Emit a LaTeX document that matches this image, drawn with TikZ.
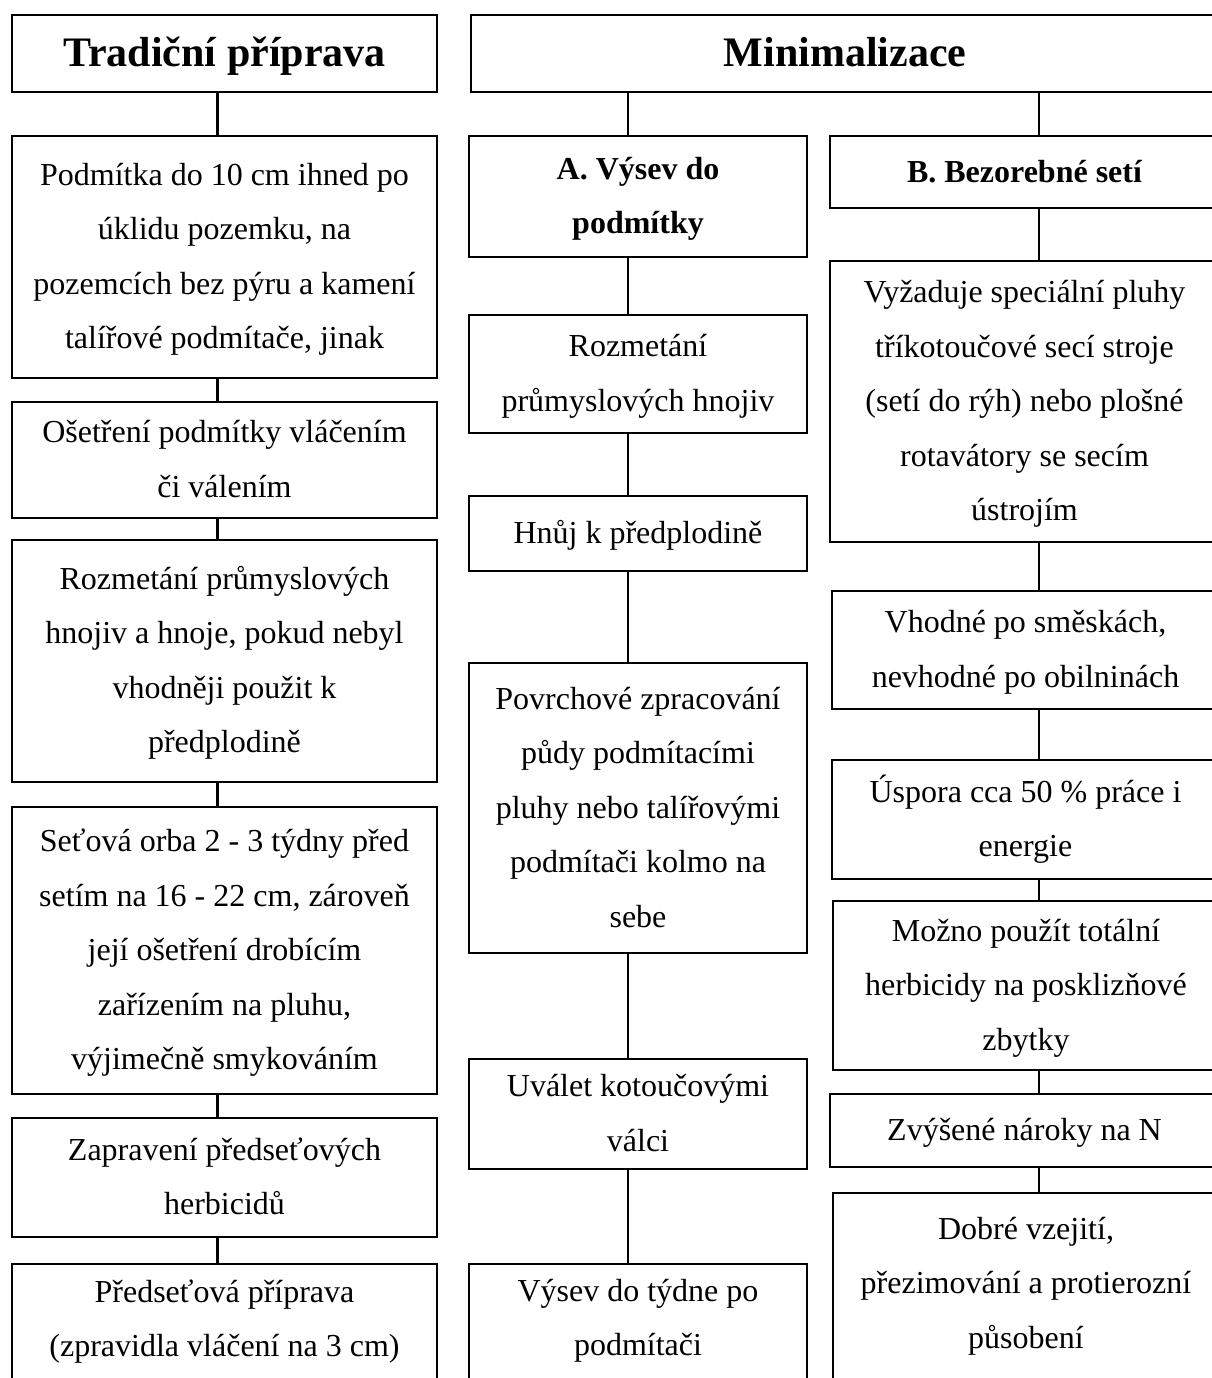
\documentclass[tikz,border=0pt]{standalone}
\usepackage{fontspec}
\setmainfont{Liberation Serif}
\newcommand{\ws}{\rule[-17pt]{0pt}{54pt}}
\newcommand{\wt}{\rule[-15pt]{0pt}{57pt}}
\tikzset{
  boxst/.style={draw, line width=2.5pt, align=center, inner sep=0pt,
    font={\fontsize{32}{54.5}\selectfont\lineskiplimit=-100pt}},
  boldst/.style={boxst, font={\fontsize{32}{54.5}\selectfont\bfseries\lineskiplimit=-100pt}},
  titlest/.style={boxst, font={\fontsize{42}{50}\selectfont\bfseries\lineskiplimit=-100pt}},
  emptyst/.style={draw, line width=2.5pt, inner sep=0pt},
  txtst/.style={align=center, inner sep=0pt, anchor=north,
    font={\fontsize{32}{54.5}\selectfont\lineskiplimit=-100pt}},
  conn/.style={line width=2.5pt}
}
\newcommand{\mybox}[7][boxst]{\node[#1, minimum width={#5-#3}, minimum height={#6-#4}] (#2) at ({(#3+#5)/2},{(#4+#6)/2}) {#7};}
\begin{document}
\begin{tikzpicture}[x=1pt,y=-1pt]
\useasboundingbox (0,0) rectangle (1211,1378);
\coordinate (cL) at (217.5,0);
\coordinate (cM) at (628,0);
\coordinate (cR) at (1039,0);
% Left column
\mybox[titlest]{tL}{12}{15}{437}{92}{\wt Tradiční příprava}
\mybox{L1}{12}{136}{437}{378}{\ws Podmítka do 10 cm ihned po\\\ws úklidu pozemku, na\\\ws pozemcích bez pýru a kamení\\\ws talířové podmítače, jinak}
\mybox{L2}{12}{402}{437}{518}{\ws Ošetření podmítky vláčením\\\ws či válením}
\mybox{L3}{12}{540}{437}{782}{\ws Rozmetání průmyslových\\\ws hnojiv a hnoje, pokud nebyl\\\ws vhodněji použit k\\\ws předplodině}
\mybox{L4}{12}{807}{437}{1094}{\ws Seťová orba 2 - 3 týdny před\\\ws setím na 16 - 22 cm, zároveň\\\ws její ošetření drobícím\\\ws zařízením na pluhu,\\\ws výjimečně smykováním}
\mybox{L5}{12}{1118}{437}{1237}{\ws Zapravení předseťových\\\ws herbicidů}
\mybox[emptyst]{L6}{12}{1264}{437}{1385}{}
\node[txtst] (L6t) at (224.5,1265) {\ws Předseťová příprava\\\ws (zpravidla vláčení na 3 cm)};
% Middle column
\mybox[titlest]{tM}{471}{15}{1219}{92}{\wt Minimalizace}
\mybox[boldst]{A}{469}{136}{807}{257}{\ws A. Výsev do\\\ws podmítky}
\mybox{M2}{469}{315}{807}{433}{\ws Rozmetání\\\ws průmyslových hnojiv}
\mybox{M3}{469}{496}{807}{571}{\ws Hnůj k předplodině}
\mybox{M4}{469}{663}{807}{953}{\ws Povrchové zpracování\\\ws půdy podmítacími\\\ws pluhy nebo talířovými\\\ws podmítači kolmo na\\\ws sebe}
\mybox{M5}{469}{1059}{807}{1169}{\ws Uválet kotoučovými\\\ws válci}
\mybox[emptyst]{M6}{469}{1264}{807}{1385}{}
\node[txtst] (M6t) at (638,1264) {\ws Výsev do týdne po\\\ws podmítači};
% Right column
\mybox[boldst]{B}{830}{136}{1219}{208}{\ws B. Bezorebné setí}
\mybox{R2}{830}{261}{1219}{542}{\ws Vyžaduje speciální pluhy\\\ws tříkotoučové secí stroje\\\ws (setí do rýh) nebo plošné\\\ws rotavátory se secím\\\ws ústrojím}
\mybox{R3}{832}{591}{1219}{709}{\ws Vhodné po směskách,\\\ws nevhodné po obilninách}
\mybox{R4}{832}{760}{1219}{879}{\ws Úspora cca 50 \% práce i\\\ws energie}
\mybox{R5}{833}{901}{1219}{1070}{\ws Možno použít totální\\\ws herbicidy na posklizňové\\\ws zbytky}
\mybox{R6}{830}{1094}{1219}{1167}{\ws Zvýšené nároky na N}
\mybox[emptyst]{R7}{833}{1193}{1219}{1385}{}
\node[txtst] (R7t) at (1026,1202) {\ws Dobré vzejití,\\\ws přezimování a protierozní\\\ws působení};
% Connectors
\foreach \a/\b in {tL/L1,L1/L2,L2/L3,L3/L4,L4/L5,L5/L6}
  \draw[conn] (\a.south -| cL) -- (\b.north -| cL);
\foreach \a/\b in {tM/A,A/M2,M2/M3,M3/M4,M4/M5,M5/M6}
  \draw[conn] (\a.south -| cM) -- (\b.north -| cM);
\foreach \a/\b in {tM/B,B/R2,R2/R3,R3/R4,R4/R5,R5/R6,R6/R7}
  \draw[conn] (\a.south -| cR) -- (\b.north -| cR);
\end{tikzpicture}
\end{document}
